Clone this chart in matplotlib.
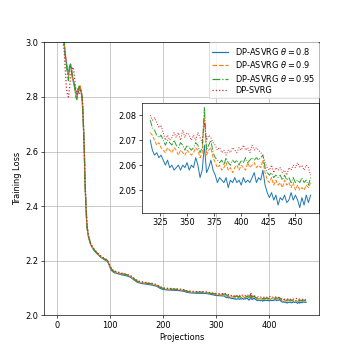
import matplotlib
matplotlib.use("Agg")
import matplotlib.pyplot as plt
import numpy as np

# x positions (projections)
x_head = [0, 5, 10, 14, 16, 18, 20, 22, 24, 26, 28, 30, 32, 34, 36, 38, 40, 42, 44, 46, 48,
          50, 52, 53, 55, 57, 60, 64, 70, 76, 83, 90, 95, 98, 101, 104, 108, 115, 122, 130,
          139, 145, 152, 160, 170, 180, 188, 195, 200, 210, 220, 230, 240, 246, 255, 265,
          275, 283, 290, 300, 308, 314]
x_zoom = list(range(316, 466, 2))
x_tail = [467, 470]

blue_head = [3.30, 3.18, 3.06, 3.00, 2.96, 2.93, 2.90, 2.88, 2.91, 2.92, 2.90, 2.87, 2.85, 2.84,
             2.82, 2.80, 2.82, 2.83, 2.84, 2.82, 2.79,
             2.71, 2.60, 2.50, 2.40, 2.32, 2.285, 2.258, 2.238, 2.225, 2.212, 2.203, 2.198,
             2.188, 2.172, 2.162, 2.156, 2.152, 2.148, 2.145, 2.139, 2.130, 2.120, 2.116,
             2.113, 2.110, 2.106, 2.098, 2.094, 2.092, 2.091, 2.090, 2.087, 2.083, 2.081,
             2.080, 2.080, 2.079, 2.076, 2.072, 2.071, 2.070]
orange_head = [3.29, 3.17, 3.06, 3.00, 2.96, 2.93, 2.90, 2.87, 2.90, 2.92, 2.90, 2.87, 2.85, 2.83,
               2.81, 2.80, 2.82, 2.83, 2.84, 2.82, 2.80,
               2.71, 2.60, 2.51, 2.40, 2.32, 2.287, 2.26, 2.240, 2.227, 2.214, 2.205, 2.200,
               2.190, 2.175, 2.165, 2.159, 2.155, 2.151, 2.148, 2.142, 2.133, 2.123, 2.119,
               2.116, 2.113, 2.109, 2.101, 2.097, 2.095, 2.094, 2.093, 2.090, 2.086, 2.084,
               2.083, 2.083, 2.082, 2.079, 2.075, 2.074, 2.073]
green_head = [3.28, 3.16, 3.05, 3.00, 2.95, 2.92, 2.89, 2.86, 2.90, 2.92, 2.89, 2.87, 2.86, 2.83,
              2.80, 2.79, 2.82, 2.84, 2.83, 2.82, 2.80,
              2.72, 2.61, 2.51, 2.41, 2.33, 2.288, 2.261, 2.241, 2.228, 2.215, 2.206, 2.201,
              2.191, 2.176, 2.166, 2.160, 2.156, 2.152, 2.149, 2.143, 2.134, 2.124, 2.120,
              2.117, 2.114, 2.110, 2.102, 2.098, 2.096, 2.095, 2.094, 2.091, 2.087, 2.085,
              2.084, 2.084, 2.083, 2.080, 2.077, 2.076, 2.076]
red_head = [3.25, 3.12, 3.03, 2.97, 2.90, 2.84, 2.81, 2.80, 2.83, 2.87, 2.90, 2.91, 2.90, 2.86,
            2.83, 2.82, 2.83, 2.81, 2.83, 2.82, 2.80,
            2.72, 2.61, 2.51, 2.41, 2.33, 2.29, 2.262, 2.243, 2.23, 2.217, 2.208, 2.203,
            2.193, 2.178, 2.168, 2.162, 2.158, 2.154, 2.151, 2.145, 2.136, 2.126, 2.122,
            2.119, 2.116, 2.112, 2.104, 2.100, 2.098, 2.097, 2.096, 2.093, 2.089, 2.087,
            2.086, 2.086, 2.085, 2.082, 2.079, 2.078, 2.079]

blue_zoom = [2.070, 2.066, 2.064, 2.065, 2.063, 2.064, 2.062, 2.060, 2.062, 2.059,
             2.060, 2.058, 2.059, 2.060, 2.058, 2.060, 2.059, 2.061, 2.058, 2.060,
             2.059, 2.063, 2.060, 2.055, 2.058, 2.068, 2.057, 2.059, 2.062, 2.058,
             2.056, 2.053, 2.055, 2.054, 2.053, 2.055, 2.051, 2.054, 2.053, 2.055,
             2.053, 2.054, 2.052, 2.055, 2.053, 2.054, 2.053, 2.055, 2.057, 2.053,
             2.055, 2.054, 2.058, 2.052, 2.049, 2.047, 2.049, 2.046, 2.048, 2.044,
             2.047, 2.046, 2.048, 2.045, 2.046, 2.049, 2.046, 2.048, 2.046, 2.043,
             2.047, 2.044, 2.048, 2.045, 2.048]
orange_zoom = [2.073, 2.072, 2.070, 2.068, 2.069, 2.067, 2.066, 2.065, 2.067, 2.066,
               2.065, 2.067, 2.066, 2.064, 2.066, 2.065, 2.064, 2.066, 2.065, 2.064,
               2.065, 2.067, 2.066, 2.063, 2.065, 2.080, 2.064, 2.066, 2.067, 2.063,
               2.061, 2.059, 2.060, 2.058, 2.059, 2.061, 2.058, 2.059, 2.057, 2.059,
               2.060, 2.058, 2.060, 2.059, 2.058, 2.061, 2.059, 2.060, 2.061, 2.059,
               2.060, 2.059, 2.062, 2.057, 2.054, 2.053, 2.055, 2.052, 2.054, 2.052,
               2.053, 2.051, 2.054, 2.052, 2.053, 2.051, 2.053, 2.050, 2.052, 2.050,
               2.051, 2.050, 2.052, 2.051, 2.053]
green_zoom = [2.078, 2.075, 2.074, 2.072, 2.071, 2.072, 2.070, 2.068, 2.070, 2.069,
              2.068, 2.070, 2.068, 2.067, 2.069, 2.068, 2.066, 2.068, 2.067, 2.066,
              2.067, 2.069, 2.068, 2.065, 2.067, 2.083, 2.066, 2.068, 2.070, 2.065,
              2.063, 2.062, 2.061, 2.062, 2.060, 2.063, 2.061, 2.060, 2.062, 2.061,
              2.062, 2.060, 2.062, 2.061, 2.063, 2.061, 2.062, 2.063, 2.062, 2.063,
              2.062, 2.063, 2.064, 2.059, 2.057, 2.056, 2.057, 2.055, 2.056, 2.055,
              2.056, 2.054, 2.056, 2.054, 2.055, 2.053, 2.055, 2.053, 2.054, 2.053,
              2.055, 2.053, 2.054, 2.052, 2.055]
red_zoom = [2.080, 2.078, 2.079, 2.077, 2.075, 2.076, 2.073, 2.070, 2.072, 2.070,
            2.071, 2.073, 2.071, 2.073, 2.070, 2.074, 2.071, 2.073, 2.072, 2.070,
            2.072, 2.070, 2.073, 2.071, 2.069, 2.077, 2.070, 2.072, 2.071, 2.069,
            2.068, 2.066, 2.067, 2.065, 2.066, 2.064, 2.066, 2.065, 2.067, 2.066,
            2.065, 2.067, 2.066, 2.068, 2.066, 2.067, 2.065, 2.068, 2.066, 2.067,
            2.066, 2.065, 2.064, 2.061, 2.059, 2.058, 2.060, 2.057, 2.059, 2.058,
            2.059, 2.057, 2.058, 2.056, 2.059, 2.058, 2.060, 2.059, 2.061, 2.059,
            2.060, 2.058, 2.060, 2.059, 2.056]

blue_tail = [2.047, 2.047]
orange_tail = [2.052, 2.052]
green_tail = [2.054, 2.054]
red_tail = [2.056, 2.056]

labels = [r"DP-ASVRG $\theta=0.8$", r"DP-ASVRG $\theta=0.9$",
          r"DP-ASVRG $\theta=0.95$", "DP-SVRG"]
colors = ["#1f77b4", "#ff7f0e", "#2ca02c", "#d62728"]
styles = ["-", "--", "-.", ":"]

series = [(blue_head, blue_zoom, blue_tail), (orange_head, orange_zoom, orange_tail),
          (green_head, green_zoom, green_tail), (red_head, red_zoom, red_tail)]

x_all = np.array(x_head + x_zoom + x_tail)

fig = plt.figure(figsize=(6, 6), dpi=59)
ax = fig.add_subplot(111)
for (h, z, t), lab, c, ls in zip(series, labels, colors, styles):
    ax.plot(x_all, np.array(h + z + t), color=c, linestyle=ls, label=lab)
ax.set_ylim(2.0, 3.0)
ax.set_xlabel("Projections")
ax.set_ylabel("Training Loss")
ax.grid(True)
ax.legend(loc="upper right", bbox_to_anchor=(1, 1), borderaxespad=0,
          labelspacing=0.3)

ins = ax.inset_axes([0.357, 0.376, 0.643, 0.403])
xz = np.array(x_zoom)
for (h, z, t), c, ls in zip(series, colors, styles):
    ins.plot(xz, np.array(z), color=c, linestyle=ls, linewidth=1.2)
ins.set_xticks([325, 350, 375, 400, 425, 450])
ins.set_yticks([2.05, 2.06, 2.07, 2.08])

fig.savefig("out.png", dpi=59)
